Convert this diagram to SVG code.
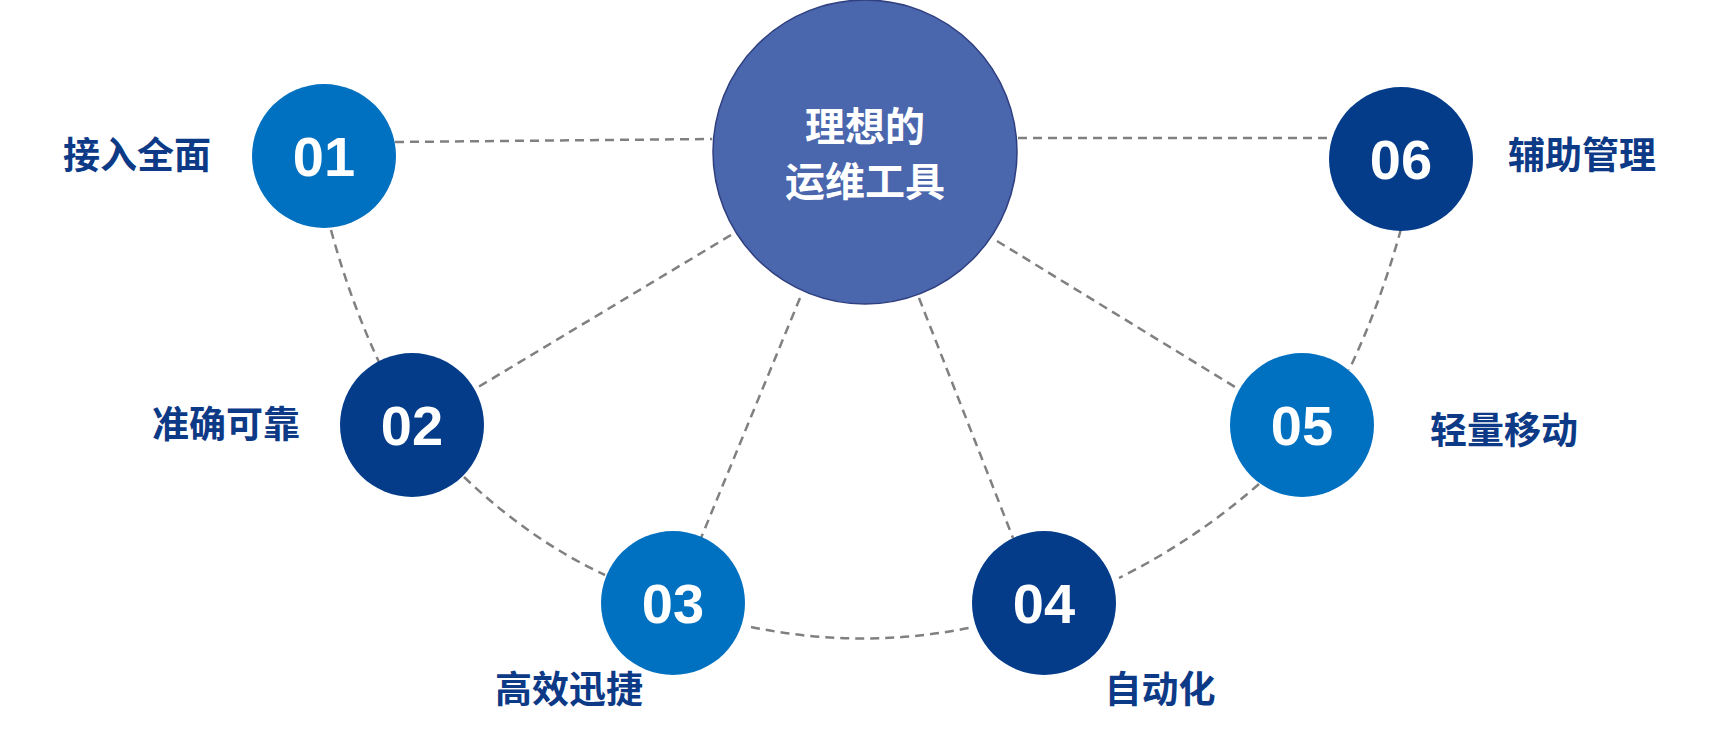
<svg xmlns="http://www.w3.org/2000/svg" width="1732" height="735" viewBox="0 0 1732 735">
<style>
.c path{fill:none;stroke:#808080;stroke-width:2.5;stroke-dasharray:9 6}
.a{fill:#0070C0}.b{fill:#043C8A}
.n{font-family:"Liberation Sans",Arial,sans-serif;font-weight:bold;font-size:56px;fill:#fff;text-anchor:middle}
.l{font-family:"Noto Sans CJK SC","Liberation Sans",sans-serif;font-weight:bold;font-size:37px;fill:#0D3A87;text-anchor:middle}
.m{font-family:"Noto Sans CJK SC","Liberation Sans",sans-serif;font-weight:bold;font-size:40px;fill:#fff;text-anchor:middle}
</style>
<rect width="1732" height="735" fill="#fff"/>
<g class="c" id="connectors">
<path d="M395,142 L712,139"/>
<path d="M1018,138 L1331,138"/>
<path d="M331,230 Q350,300 379,362"/>
<path d="M731,235 L475,389"/>
<path d="M800,298 L701,538"/>
<path d="M919,298 L1013,538"/>
<path d="M997,241 L1235,387"/>
<path d="M1401,229 Q1380,305 1349,370"/>
<path d="M464,477 Q530,540 605,575"/>
<path d="M751,627 Q862,650 974,627"/>
<path d="M1259,484 Q1195,540 1119,578"/>
</g>
<g id="center"><circle cx="865" cy="152" r="152" fill="#4A66AD" stroke="#2F3F7F" stroke-width="1.5"/>
<text class="m" x="865" y="141">理想的</text><text class="m" x="865" y="196">运维工具</text></g>
<g id="n01"><circle class="a" cx="324" cy="156" r="72"/><text class="n" x="324" y="176">01</text><text class="l" x="137" y="169">接入全面</text></g>
<g id="n02"><circle class="b" cx="412" cy="425" r="72"/><text class="n" x="412" y="445">02</text><text class="l" x="226" y="438">准确可靠</text></g>
<g id="n03"><circle class="a" cx="673" cy="603" r="72"/><text class="n" x="673" y="623">03</text><text class="l" x="569" y="703">高效迅捷</text></g>
<g id="n04"><circle class="b" cx="1044" cy="603" r="72"/><text class="n" x="1044" y="623">04</text><text class="l" x="1160" y="703">自动化</text></g>
<g id="n05"><circle class="a" cx="1302" cy="425" r="72"/><text class="n" x="1302" y="445">05</text><text class="l" x="1504" y="444">轻量移动</text></g>
<g id="n06"><circle class="b" cx="1401" cy="159" r="72"/><text class="n" x="1401" y="179">06</text><text class="l" x="1582" y="169">辅助管理</text></g>
</svg>
